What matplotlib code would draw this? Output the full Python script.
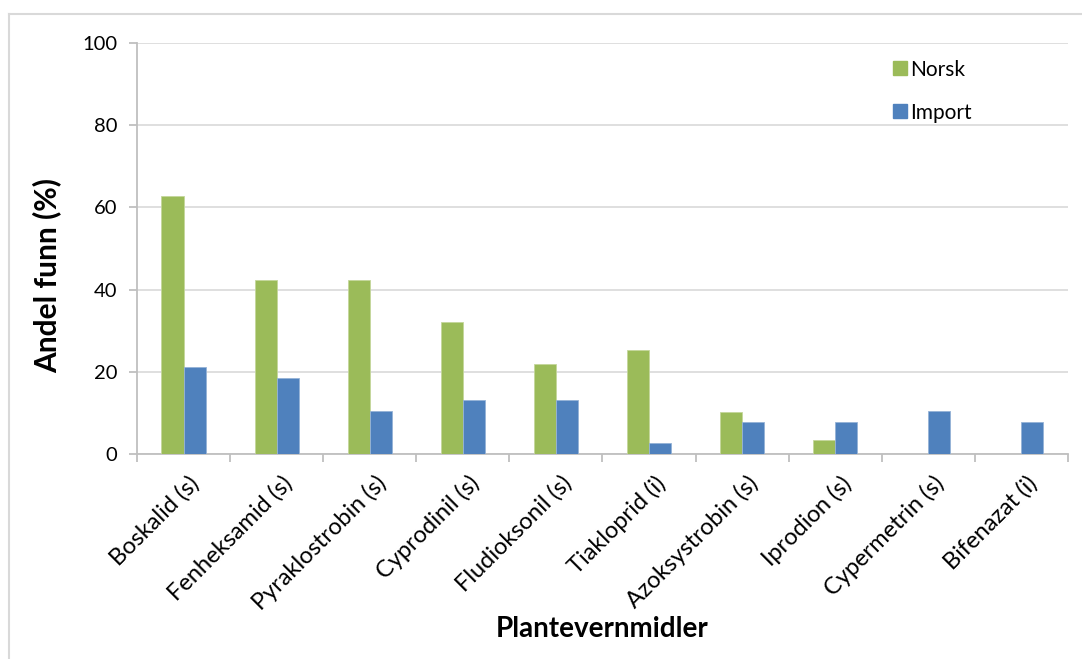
import matplotlib
matplotlib.use("Agg")
import matplotlib.pyplot as plt
import numpy as np
from matplotlib.lines import Line2D
from matplotlib.transforms import ScaledTranslation

plt.rcParams["font.family"] = ["Lato", "DejaVu Sans"]

stoffer = ["Boskalid (s)", "Fenheksamid (s)", "Pyraklostrobin (s)", "Cyprodinil (s)",
           "Fludioksonil (s)", "Tiakloprid (i)", "Azoksystrobin (s)", "Iprodion (s)",
           "Cypermetrin (s)", "Bifenazat (i)"]
norsk = [62.7, 42.4, 42.4, 32.2, 22.0, 25.4, 10.2, 3.4, 0, 0]
importert = [21.1, 18.4, 10.5, 13.2, 13.2, 2.6, 7.9, 7.9, 10.5, 7.9]

GRØNN = "#9BBB59"
BLÅ = "#4F81BD"
GRÅ = "#BFBFBF"

fig = plt.figure(figsize=(10.82, 6.59), dpi=100)
ax = fig.add_axes([0.1266, 0.311, 0.8604, 0.6237])

x = np.arange(len(stoffer))
w = 0.237
ax.bar(x - w / 2, norsk, w, color=GRØNN, edgecolor="#C4D79B", linewidth=0.6, label="Norsk", zorder=3)
ax.bar(x + w / 2, importert, w, color=BLÅ, edgecolor="#95B3D7", linewidth=0.6, label="Import", zorder=3)

ax.set_xlim(-0.5, len(stoffer) - 0.5)
ax.set_ylim(0, 100)
ax.set_yticks(range(0, 101, 20))
ax.yaxis.grid(True, color="#D9D9D9", linewidth=1.2, zorder=0)
ax.set_axisbelow(True)

for s in ["top", "right"]:
    ax.spines[s].set_visible(False)
for s in ["left", "bottom"]:
    ax.spines[s].set_color(GRÅ)
    ax.spines[s].set_linewidth(1.3)

ax.set_xticks(x)
ax.set_xticklabels(stoffer, rotation=45, ha="right", rotation_mode="anchor", fontsize=17)
ax.tick_params(axis="x", length=0, pad=13)
# litt til høyre, som i originalen
for lbl in ax.get_xticklabels():
    lbl.set_transform(lbl.get_transform() + ScaledTranslation(0.05, 0, fig.dpi_scale_trans))
ax.set_xticks(np.arange(-0.5, len(stoffer)), minor=True)
ax.tick_params(axis="x", which="minor", length=6, color=GRÅ, width=1.3)
ax.tick_params(axis="y", length=6, color=GRÅ, width=1.3, labelsize=14.5, pad=8)

ax.set_ylabel("Andel funn (%)", fontsize=21.5, fontweight="bold")
ax.yaxis.set_label_coords(-0.081, 0.435)
ax.set_xlabel("Plantevernmidler", fontsize=20, fontweight="bold")
ax.xaxis.set_label_coords(0.4995, -0.395)

handles = [Line2D([], [], marker="s", linestyle="", color=GRØNN, markersize=10),
           Line2D([], [], marker="s", linestyle="", color=BLÅ, markersize=10)]
ax.legend(handles, ["Norsk", "Import"], loc="upper left", bbox_to_anchor=(0.79, 1.005),
          frameon=False, fontsize=15, handletextpad=0.1, labelspacing=1.1, handlelength=0.8)

# ramme rundt figuren
fig.add_artist(Line2D([9 / 1082, 9 / 1082], [0, 1 - 14 / 659], color="#D9D9D9", linewidth=1.5,
                      transform=fig.transFigure))
fig.add_artist(Line2D([9 / 1082, 1], [1 - 14 / 659, 1 - 14 / 659], color="#D9D9D9", linewidth=1.5,
                      transform=fig.transFigure))

fig.savefig("out.png", dpi=100)
